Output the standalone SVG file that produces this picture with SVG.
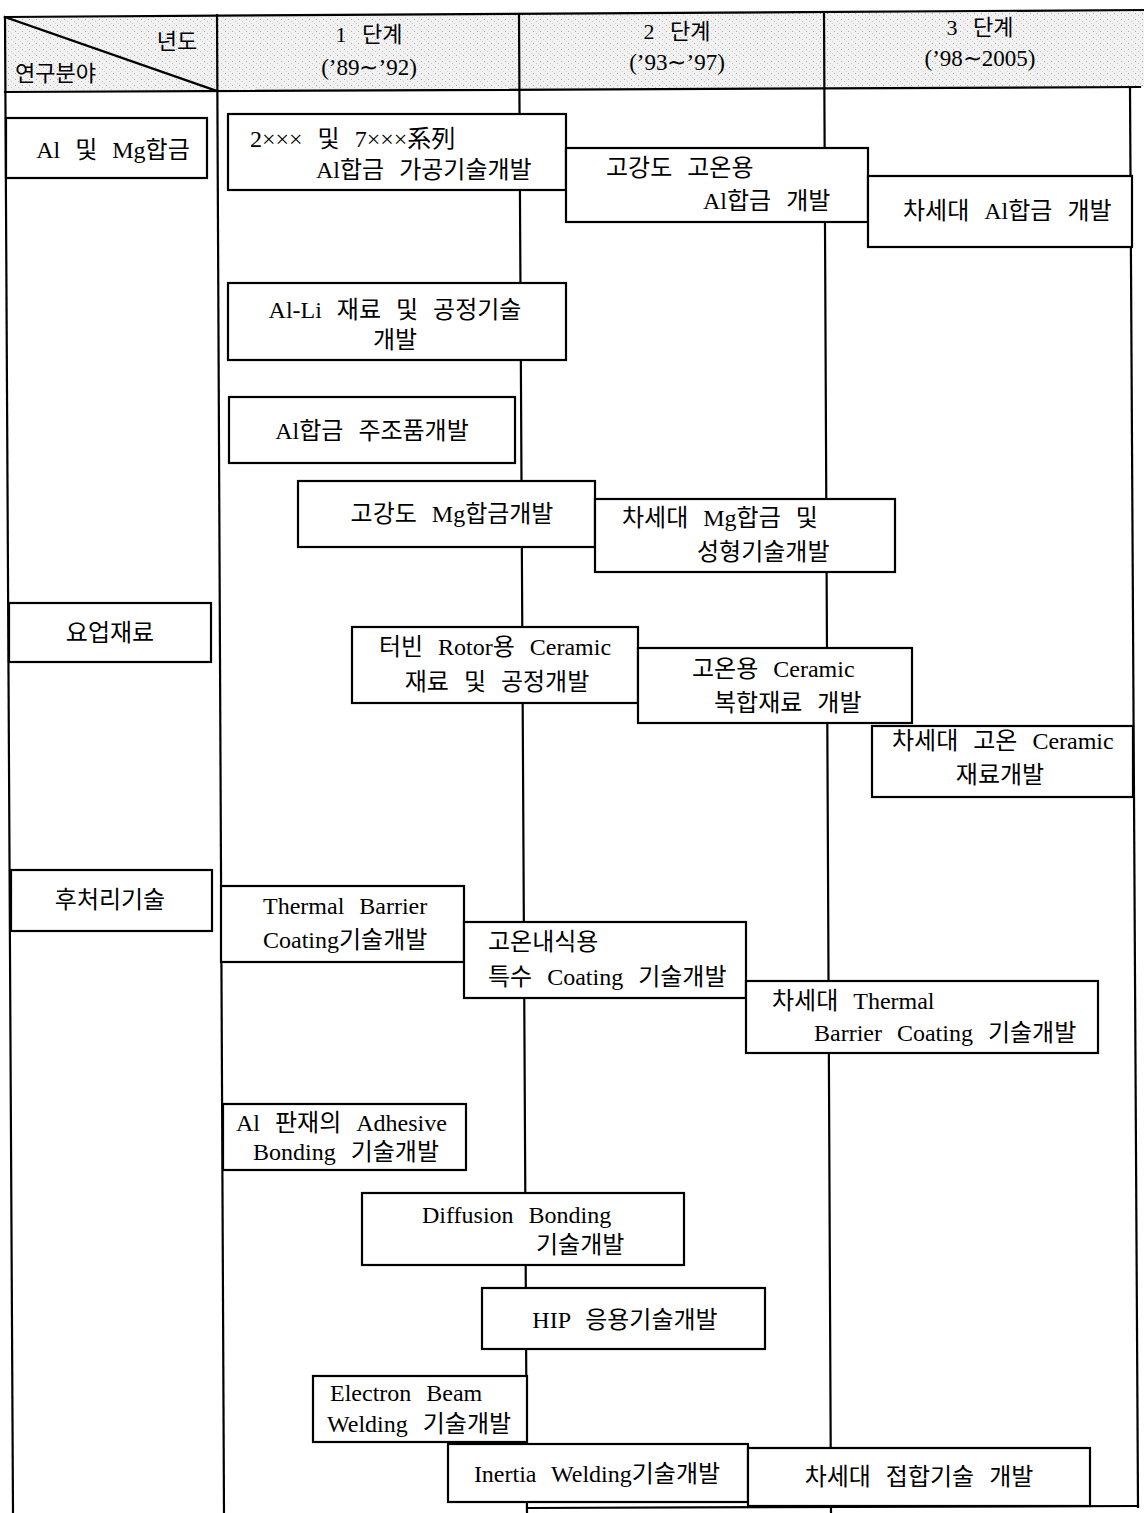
<svg xmlns="http://www.w3.org/2000/svg" width="1144" height="1513" viewBox="0 0 1144 1513">
  <defs>
    <style>
      .ln { stroke: #000; stroke-width: 2.2; fill: none; stroke-linecap: square; }
      .box { stroke: #000; stroke-width: 2.2; fill: #fff; }
      .t { font-family: "Liberation Serif", "Noto Sans CJK KR", serif; font-size: 24px; fill: #000; word-spacing: 9px; }
      .h { font-family: "Liberation Serif", "Noto Sans CJK KR", serif; font-size: 22px; fill: #000; word-spacing: 10px; }
      .m { text-anchor: middle; }
    </style>
    <pattern id="screen" width="7" height="6" patternUnits="userSpaceOnUse">
      <rect width="7" height="6" fill="#f1f1f1"/>
      <rect x="1" y="1" width="1" height="1" fill="#a9a9a9"/>
      <rect x="4" y="3" width="1" height="1" fill="#c4c4c4"/>
      <rect x="6" y="5" width="1" height="1" fill="#d0d0d0"/>
    </pattern>
  </defs>

  <rect width="1144" height="1513" fill="#fff"/>

  <!-- header band -->
  <g id="header">
    <polygon points="5,17 1144,10 1144,87 5,92" fill="url(#screen)"/>
    <line class="ln" x1="5" y1="17" x2="1144" y2="10"/>
    <line class="ln" x1="5" y1="92" x2="1140" y2="87"/>
    <line class="ln" x1="5" y1="17" x2="217" y2="91"/>
    <text class="h m" x="177" y="49">년도</text>
    <text class="h" x="15" y="81">연구분야</text>
    <text class="h m" x="369" y="42">1 단계</text>
    <text class="h m" x="369" y="75" style="font-size:23px">(’89∼’92)</text>
    <text class="h m" x="677" y="39">2 단계</text>
    <text class="h m" x="677" y="70" style="font-size:23px">(’93∼’97)</text>
    <text class="h m" x="980" y="35">3 단계</text>
    <text class="h m" x="980" y="66" style="font-size:23px">(’98∼2005)</text>
  </g>

  <!-- column rules and timeline connectors -->
  <g id="connectors">
    <line class="ln" x1="5" y1="17" x2="13" y2="1513"/>
    <line class="ln" x1="217" y1="15" x2="224" y2="1513"/>
    <line class="ln" x1="519" y1="14" x2="527" y2="1513"/>
    <line class="ln" x1="824" y1="12" x2="831" y2="1513"/>
    <line class="ln" x1="1130" y1="88" x2="1138" y2="1507"/>
    <line class="ln" x1="527" y1="1508" x2="1138" y2="1506"/>
  </g>

  <!-- research fields -->
  <g id="field-al-mg">
    <rect class="box" x="6" y="118" width="201" height="60"/>
    <text class="t m" x="113" y="158">Al 및 Mg합금</text>
  </g>
  <g id="field-ceramic">
    <rect class="box" x="9" y="603" width="202" height="59"/>
    <text class="t m" x="110" y="641">요업재료</text>
  </g>
  <g id="field-post">
    <rect class="box" x="11" y="870" width="201" height="61"/>
    <text class="t m" x="110" y="908">후처리기술</text>
  </g>

  <!-- Al / Mg alloys -->
  <g id="n-al-2x7x">
    <rect class="box" x="228" y="114" width="338" height="76"/>
    <text class="t" x="250" y="147">2××× 및 7×××系列</text>
    <text class="t" x="316" y="178">Al합금 가공기술개발</text>
  </g>
  <g id="n-al-hs">
    <rect class="box" x="566" y="148" width="302" height="74"/>
    <text class="t" x="606" y="176">고강도 고온용</text>
    <text class="t" x="703" y="209">Al합금 개발</text>
  </g>
  <g id="n-al-next">
    <rect class="box" x="868" y="176" width="264" height="71"/>
    <text class="t" x="903" y="219">차세대 Al합금 개발</text>
  </g>
  <g id="n-al-li">
    <rect class="box" x="228" y="283" width="338" height="77"/>
    <text class="t m" x="395" y="318">Al-Li 재료 및 공정기술</text>
    <text class="t m" x="395" y="348">개발</text>
  </g>
  <g id="n-al-cast">
    <rect class="box" x="229" y="397" width="286" height="66"/>
    <text class="t m" x="372" y="439">Al합금 주조품개발</text>
  </g>
  <g id="n-mg-hs">
    <rect class="box" x="298" y="481" width="297" height="66"/>
    <text class="t m" x="452" y="522">고강도 Mg합금개발</text>
  </g>
  <g id="n-mg-next">
    <rect class="box" x="595" y="499" width="300" height="73"/>
    <text class="t" x="622" y="526">차세대 Mg합금 및</text>
    <text class="t" x="697" y="560">성형기술개발</text>
  </g>

  <!-- ceramics -->
  <g id="n-cer-rotor">
    <rect class="box" x="352" y="627" width="286" height="76"/>
    <text class="t m" x="495" y="655">터빈 Rotor용 Ceramic</text>
    <text class="t m" x="497" y="690">재료 및 공정개발</text>
  </g>
  <g id="n-cer-comp">
    <rect class="box" x="638" y="648" width="274" height="75"/>
    <text class="t" x="692" y="677">고온용 Ceramic</text>
    <text class="t" x="714" y="711">복합재료 개발</text>
  </g>
  <g id="n-cer-next">
    <rect class="box" x="872" y="726" width="261" height="71"/>
    <text class="t" x="892" y="749">차세대 고온 Ceramic</text>
    <text class="t m" x="1000" y="783">재료개발</text>
  </g>

  <!-- post-processing -->
  <g id="n-tbc">
    <rect class="box" x="221" y="886" width="243" height="76"/>
    <text class="t" x="263" y="914">Thermal Barrier</text>
    <text class="t" x="263" y="948">Coating기술개발</text>
  </g>
  <g id="n-corr">
    <rect class="box" x="464" y="922" width="282" height="76"/>
    <text class="t" x="488" y="950">고온내식용</text>
    <text class="t" x="488" y="985">특수 Coating 기술개발</text>
  </g>
  <g id="n-tbc-next">
    <rect class="box" x="746" y="981" width="352" height="72"/>
    <text class="t" x="772" y="1009">차세대 Thermal</text>
    <text class="t" x="814" y="1041">Barrier Coating 기술개발</text>
  </g>
  <g id="n-adhesive">
    <rect class="box" x="223" y="1104" width="243" height="66"/>
    <text class="t" x="236" y="1131">Al 판재의 Adhesive</text>
    <text class="t" x="253" y="1160">Bonding 기술개발</text>
  </g>
  <g id="n-diffusion">
    <rect class="box" x="362" y="1193" width="322" height="72"/>
    <text class="t" x="422" y="1223">Diffusion Bonding</text>
    <text class="t" x="536" y="1253">기술개발</text>
  </g>
  <g id="n-hip">
    <rect class="box" x="482" y="1288" width="283" height="61"/>
    <text class="t m" x="625" y="1328">HIP 응용기술개발</text>
  </g>
  <g id="n-ebw">
    <rect class="box" x="313" y="1376" width="214" height="66"/>
    <text class="t" x="330" y="1401">Electron Beam</text>
    <text class="t" x="327" y="1432">Welding 기술개발</text>
  </g>
  <g id="n-inertia">
    <rect class="box" x="448" y="1444" width="300" height="58"/>
    <text class="t m" x="597" y="1482">Inertia Welding기술개발</text>
  </g>
  <g id="n-join-next">
    <rect class="box" x="748" y="1448" width="342" height="58"/>
    <text class="t m" x="919" y="1485">차세대 접합기술 개발</text>
  </g>
</svg>
